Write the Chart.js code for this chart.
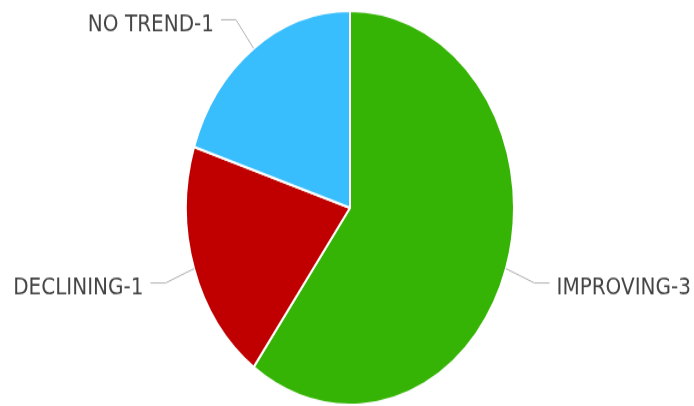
<!DOCTYPE html>
<html>
<head>
<meta charset="utf-8">
<script src="https://cdn.jsdelivr.net/npm/chart.js@4/dist/chart.umd.min.js"></script>
<style>
  html, body { margin: 0; padding: 0; background: #fff; }
</style>
</head>
<body>
<!-- drawn at 338px tall, shown at 406px: the reference pie is a stretched ellipse -->
<canvas id="grafico" width="694" height="338" style="width:694px;height:406px;display:block"></canvas>
<script>
const categorias = ['IMPROVING', 'DECLINING', 'NO TREND'];
const valores = [3, 1, 1];
const cores = ['#35b405', '#c00000', '#38bdfd'];

// rótulos externos com linha de ligação
const rotulosExternos = {
    id: 'rotulosExternos',
    afterDatasetsDraw(chart) {
        const ctx = chart.ctx;
        const meta = chart.getDatasetMeta(0);
        ctx.save();
        ctx.font = '20px "DejaVu Sans"';
        ctx.textBaseline = 'middle';
        meta.data.forEach((arc, i) => {
            const a = (arc.startAngle + arc.endAngle) / 2;
            const r = arc.outerRadius;
            const cos = Math.cos(a), sin = Math.sin(a);
            const x0 = arc.x + cos * r, y0 = arc.y + sin * r;
            const x1 = arc.x + cos * (r + 30), y1 = arc.y + sin * (r + 32) + 2;
            const dir = cos >= 0 ? 1 : -1;
            const x2 = x1 + dir * 15;

            ctx.strokeStyle = '#b0b0b0';
            ctx.lineWidth = 1;
            ctx.beginPath();
            ctx.moveTo(x0, y0);
            ctx.lineTo(x1, y1);
            ctx.lineTo(x2, y1);
            ctx.stroke();

            ctx.fillStyle = '#444';
            ctx.textAlign = dir > 0 ? 'left' : 'right';
            ctx.fillText(categorias[i] + '-' + valores[i], x2 + dir * 7, y1 + 4);
        });
        ctx.restore();
    }
};

new Chart(document.getElementById('grafico').getContext('2d'), {
    type: 'pie',
    data: {
        labels: categorias,
        datasets: [{
            data: valores,
            backgroundColor: cores,
            borderColor: '#fff',
            borderWidth: 2
        }]
    },
    options: {
        responsive: false,
        animation: false,
        layout: { padding: { top: 8, bottom: 0, left: 6, right: 0 } },
        plugins: {
            legend: { display: false },
            tooltip: { enabled: false }
        }
    },
    plugins: [rotulosExternos]
});
</script>
</body>
</html>
